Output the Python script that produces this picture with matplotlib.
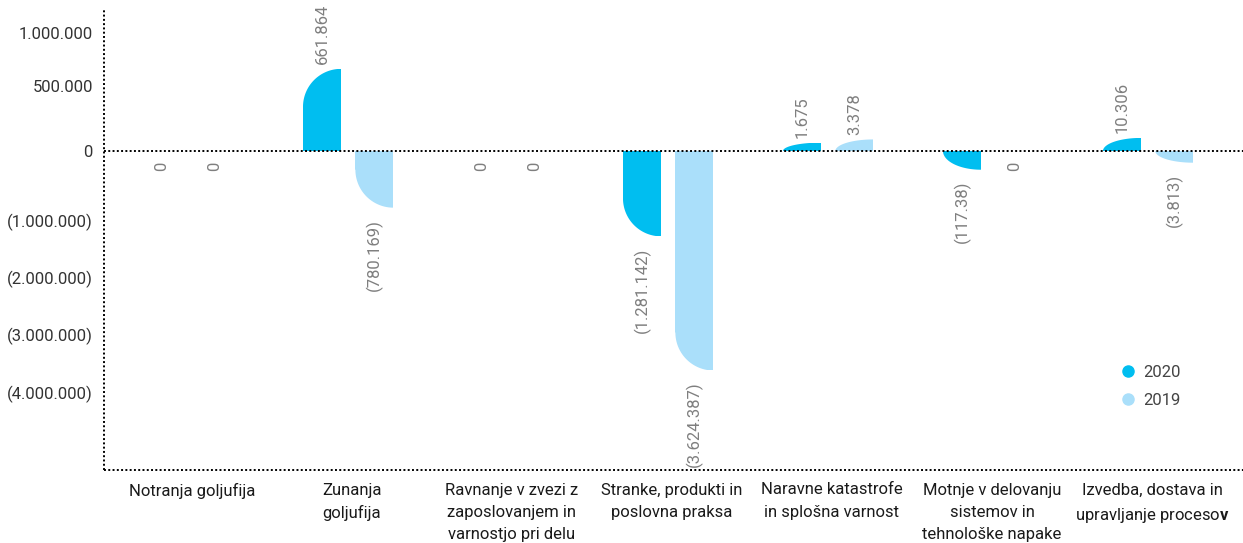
import numpy as np
import matplotlib
matplotlib.use("Agg")
import matplotlib.pyplot as plt
from matplotlib.path import Path
from matplotlib.transforms import IdentityTransform
from matplotlib.lines import Line2D
from matplotlib.ticker import FixedLocator, FixedFormatter, NullLocator

plt.rcParams['font.family'] = ['Roboto', 'DejaVu Sans']
plt.rcParams['mathtext.fontset'] = 'custom'
plt.rcParams['mathtext.bf'] = 'Roboto:bold'

categories = [
    "Notranja goljufija",
    "Zunanja\ngoljufija",
    "Ravnanje v zvezi z\nzaposlovanjem in\nvarnostjo pri delu",
    "Stranke, produkti in\nposlovna praksa",
    "Naravne katastrofe\nin splošna varnost",
    "Motnje v delovanju\nsistemov in\ntehnološke napake",
    "Izvedba, dostava in\nupravljanje proceso$\\mathbf{v}$",
]
vals_2020 = [0, 661864, 0, -1281142, 1675, -117380, 10306]
vals_2019 = [0, -780169, 0, -3624387, 3378, 0, -3813]
labels_2020 = ["0", "661.864", "0", "(1.281.142)", "1.675", "(117.38)", "10.306"]
labels_2019 = ["0", "(780.169)", "0", "(3.624.387)", "3.378", "0", "(3.813)"]

yticks = [1000000, 500000, 0, -1000000, -2000000, -3000000, -4000000]
ytick_labels = ["1.000.000", "500.000", "0", "(1.000.000)", "(2.000.000)",
                "(3.000.000)", "(4.000.000)"]

c2020 = "#00BEF0"
c2019 = "#AADFFA"
grey = "#7f7f7f"

# compressed negative side plus a little stretch near zero so small values stay visible
C, D = 12.0, 2000.0
KP = (118 - C) / 1e6
KN = (241 - C) / 4e6


def fwd(v):
    v = np.asarray(v, dtype=float)
    k = np.where(v >= 0, KP, KN)
    return v * k + C * np.tanh(v / D)


_grid = np.sinh(np.linspace(-np.arcsinh(3e5), np.arcsinh(3e5), 40001)) * 100
_fgrid = fwd(_grid)


def inv(y):
    return np.interp(np.asarray(y, dtype=float), _fgrid, _grid)


fig = plt.figure(figsize=(12.43, 5.43), dpi=100)
ax = fig.add_axes([104 / 1243, 73 / 543, 1139 / 1243, 462 / 543])
ax.set_yscale('function', functions=(fwd, inv))

x = np.arange(len(categories))
w = 38 / 160
b20 = ax.bar(x - 0.1875, vals_2020, w, color=c2020, linewidth=0)
b19 = ax.bar(x + 0.14, vals_2019, w, color=c2019, linewidth=0)

ax.set_xlim(-0.55, 6.569)
ax.set_ylim(float(inv(-319)), float(inv(143)))

dots = (0, (1, 1.2))
ax.axhline(0, color="black", lw=1.4, ls=dots, zorder=3)
for s in ("top", "right"):
    ax.spines[s].set_visible(False)
for s in ("left", "bottom"):
    ax.spines[s].set_linestyle(dots)
    ax.spines[s].set_linewidth(1.4)
    ax.spines[s].set_capstyle("butt")

ax.yaxis.set_major_locator(FixedLocator(yticks))
ax.yaxis.set_major_formatter(FixedFormatter(ytick_labels))
ax.yaxis.set_minor_locator(NullLocator())
ax.tick_params(axis='y', length=0, pad=8, labelsize=12, labelcolor="#333333")
ax.set_xticks(x)
ax.set_xticklabels(categories, fontsize=12, color="#1a1a1a", linespacing=1.6)
ax.tick_params(axis='x', length=0, pad=9)

# value labels, rotated
for bars, vals, labs in ((b20, vals_2020, labels_2020), (b19, vals_2019, labels_2019)):
    for rect, v, lab in zip(bars, vals, labs):
        cx = rect.get_x() + rect.get_width() / 2
        if v > 0:
            ax.annotate(lab, (cx, v), xytext=(0, 3.5), textcoords="offset points",
                        rotation=90, ha="center", va="bottom", color=grey, fontsize=12)
        else:
            ax.annotate(lab, (cx, v), xytext=(0, -8), textcoords="offset points",
                        rotation=90, ha="center", va="top", color=grey, fontsize=12)

handles = [Line2D([], [], marker='o', ls='none', color=c2020, markersize=8),
           Line2D([], [], marker='o', ls='none', color=c2019, markersize=8)]
ax.legend(handles, ["2020", "2019"], loc="upper left", bbox_to_anchor=(0.892, 0.228),
          frameon=False, fontsize=12, handlelength=1.0, handletextpad=0.4,
          labelspacing=0.8, borderpad=0, borderaxespad=0, labelcolor="#444444")

# round the outer left corner of every bar
fig.canvas.draw()
t = np.linspace(0, np.pi / 2, 40)
for bars in (b20, b19):
    for rect in bars:
        bb = rect.get_window_extent()
        x0, x1, y0, y1 = bb.x0, bb.x1, bb.y0, bb.y1
        bw, bh = x1 - x0, y1 - y0
        if bh < 0.5:
            continue
        rx, ry = bw, min(bw, bh)
        if rect.get_height() >= 0:
            arc = np.column_stack([x1 - rx * np.sin(t), y1 - ry + ry * np.cos(t)])
            verts = np.vstack([[x0 - 1, y0 - 1], [x1 + 1, y0 - 1], [x1 + 1, y1], arc, [x0 - 1, y1 - ry]])
        else:
            arc = np.column_stack([x1 - rx * np.sin(t), y0 + ry - ry * np.cos(t)])
            verts = np.vstack([[x0 - 1, y1 + 1], [x1 + 1, y1 + 1], [x1 + 1, y0], arc, [x0 - 1, y0 + ry]])
        verts = np.vstack([verts, verts[:1]])
        rect.set_clip_path(Path(verts), IdentityTransform())

fig.savefig("out.png", dpi=100)
